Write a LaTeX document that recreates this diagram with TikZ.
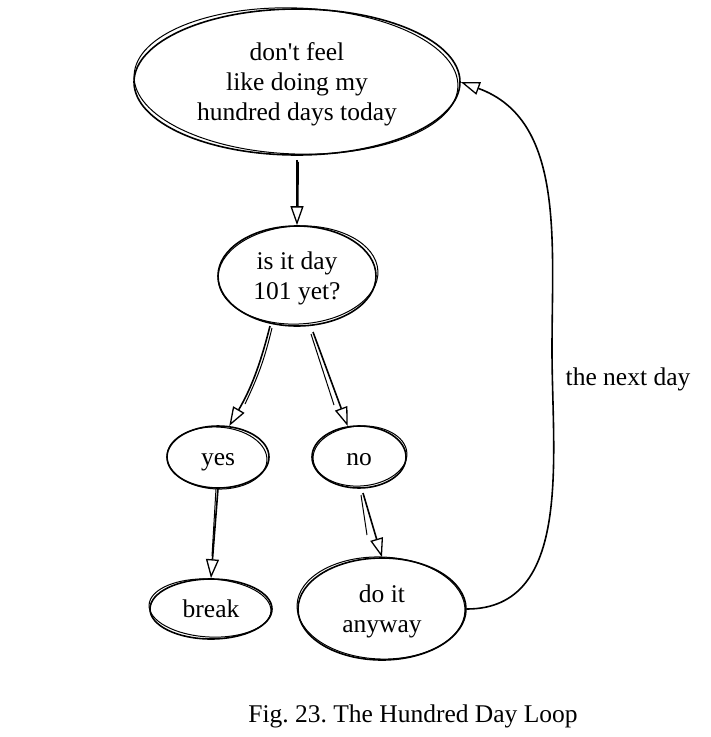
\documentclass[tikz,border=0pt]{standalone}
\usepackage{fontspec}
\setmainfont{Liberation Serif}
\usetikzlibrary{shapes.geometric,arrows.meta}
\newcommand{\mys}{\vrule width0pt height22pt depth6pt}
\tikzset{
  bub/.style={ellipse,draw,line width=1.6pt,inner sep=0pt,align=center,font=\fontsize{25.5}{30}\selectfont},
  sk/.style={line width=1pt},
  arr/.style={line width=1.6pt,-{Triangle[open,length=19pt,width=13pt,line width=1.3pt]}},
  lbl/.style={font=\fontsize{25.5}{30}\selectfont,inner sep=0pt}
}
\newcommand{\skell}[5]{\draw[sk,rotate around={#5:(#1,#2)}] (#1,#2) ellipse [x radius=#3, y radius=#4];}
\begin{document}
\begin{tikzpicture}[x=1pt,y=-1pt]
\useasboundingbox (0,0) rectangle (711,737);
\node[bub,minimum width=326pt,minimum height=146pt] (top) at (297,82) {\mys don\textquotesingle t feel\\\mys like doing my\\\mys hundred days today};
\skell{296}{81}{162}{73}{-2}
\node[bub,minimum width=158pt,minimum height=100pt] (isit) at (297,276) {\mys is it day\\\mys 101 yet?};
\skell{298}{275}{80}{49}{3}
\node[bub,minimum width=102pt,minimum height=62pt] (yes) at (218,457) {\mys yes};
\skell{217}{458}{50}{31}{-3}
\node[bub,minimum width=94pt,minimum height=62pt] (no) at (359,457) {\mys no};
\skell{360}{456}{47}{30}{4}
\node[bub,minimum width=122pt,minimum height=60pt] (brk) at (211,609) {\mys break};
\skell{210}{608}{61}{29}{-3}
\node[bub,minimum width=168pt,minimum height=102pt] (doit) at (382,609) {\mys do it\\\mys anyway};
\skell{381}{608}{84}{51}{-2}
\node[lbl] (nd) at (628,377) {\mys the next day};
\node[lbl] (cap) at (413,714) {\frenchspacing\mys Fig. 23. The Hundred Day Loop};
\coordinate (mid) at (552,350);
% arrows
\draw[arr] ([yshift=-4pt]top.south) -- (isit.north);
\draw[sk] ([xshift=1.5pt,yshift=-6pt]top.south) -- ([xshift=1pt,yshift=18pt]isit.north);
\draw[arr] (270,326) to[bend left=8] (yes.70) ;
\draw[sk] (272,328) to[bend left=6] (245,404);
\draw[arr] (313,332) -- (no.110);
\draw[sk] (311,334) -- (334,405);
\draw[arr] (yes.south) -- (brk.north);
\draw[sk] ([xshift=-2pt]yes.south) -- (212,556);
\draw[arr] (363,493) -- (doit.north);
\draw[sk] (361,495) -- (367,535);
\draw[arr] (doit.east) to[out=0,in=-90] (mid) to[out=90,in=-20] (top.east);
\end{tikzpicture}
\end{document}
